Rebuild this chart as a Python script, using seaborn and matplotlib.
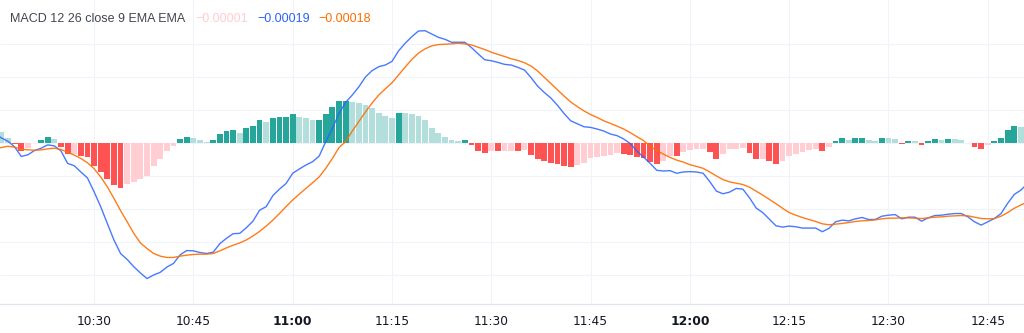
import numpy as np
import pandas as pd
import matplotlib
matplotlib.use("Agg")
import matplotlib.pyplot as plt
import seaborn as sns

# MACD(12, 26, close, 9) on one-minute bars starting at 10:15, values in units of 1e-5
start_minute = 15  # minutes after 10:00 of the first bar
UNIT = 1e-5

hist = [
    4.2, 3.2, 1.5, -0.3, -2.4, -1.5, -0.2, 0.8, 1.7, 1.0,
    -1.3, -3.5, -3.4, -4.2, -4.5, -7.1, -8.9, -10.9, -12.7, -13.8,
    -12.5, -12.0, -10.9, -10.2, -7.1, -5.1, -2.5, -1.0, 1.0, 1.7,
    1.4, 0.8, 0.2, 0.8, 2.7, 3.5, 3.8, 2.9, 4.3, 5.1,
    6.7, 6.1, 7.6, 7.8, 7.9, 8.7, 7.9, 7.4, 6.8, 6.9,
    8.6, 10.7, 12.5, 12.7, 12.3, 12.0, 11.4, 10.6, 9.0, 8.0,
    7.4, 9.0, 8.9, 8.7, 8.2, 6.7, 4.5, 2.8, 1.7, 0.8,
    0.5, 0.7, -0.7, -2.5, -3.3, -2.5, -2.6, -2.45, -2.4, -2.6,
    -2.3, -3.8, -5.1, -5.7, -6.3, -6.6, -7.1, -7.4, -6.7, -6.1,
    -4.8, -4.5, -4.0, -3.7, -3.3, -3.6, -3.7, -4.5, -4.8, -6.0,
    -6.5, -5.5, -4.0, -4.1, -2.8, -2.2, -2.0, -1.8, -3.0, -5.1,
    -3.6, -1.9, -1.8, -1.5, -3.2, -5.1, -5.0, -5.7, -6.4, -5.5,
    -4.0, -3.6, -3.0, -2.2, -2.0, -2.5, -1.2, 0.5, 1.5, 0.8,
    1.3, 1.5, 0.8, 0.4, 1.5, 1.4, 1.0, -0.3, 0.5, 0.4,
    -0.8, 0.4, 1.0, 0.9, 1.0, 0.95, 0.9, -0.15, -1.3, -2.0,
    -0.7, 0.6, 1.5, 3.8, 5.1, 4.8, 4.6,
]

macd = [
    2.8, 1.4, 0.4, -1.3, -4.2, -3.7, -2.4, -1.7, -0.7, -1.0,
    -2.5, -6.3, -7.0, -8.9, -10.7, -14.9, -19.4, -24.5, -29.5, -33.6,
    -35.4, -37.6, -39.5, -41.2, -40.1, -39.3, -37.7, -36.6, -34.0, -32.7,
    -32.8, -33.3, -33.6, -33.2, -30.6, -29.0, -27.6, -27.5, -25.8, -23.8,
    -20.5, -19.4, -16.1, -14.1, -12.4, -9.3, -8.0, -6.8, -5.8, -4.1,
    0.3, 4.3, 8.8, 12.2, 14.4, 16.9, 19.9, 21.8, 23.0, 23.5,
    24.6, 27.8, 30.1, 32.1, 33.8, 33.9, 32.9, 31.9, 31.3, 30.4,
    30.4, 30.4, 28.8, 26.9, 25.1, 24.8, 24.3, 23.7, 23.5, 22.8,
    22.0, 19.7, 17.1, 15.2, 13.5, 11.3, 8.8, 6.6, 5.7, 4.8,
    4.6, 4.1, 3.5, 2.6, 2.1, 1.1, -0.3, -2.6, -4.4, -6.3,
    -8.4, -8.6, -8.5, -9.3, -8.9, -8.8, -8.9, -9.3, -11.8, -14.7,
    -15.5, -15.0, -13.9, -14.1, -16.7, -19.8, -21.2, -23.2, -25.2, -25.6,
    -25.3, -25.5, -25.9, -25.9, -25.9, -27.0, -26.0, -24.0, -23.5, -23.7,
    -23.1, -22.7, -23.3, -23.3, -22.3, -22.0, -21.8, -23.1, -22.6, -22.6,
    -23.8, -22.8, -22.1, -22.0, -21.7, -21.5, -21.5, -22.5, -24.0, -25.0,
    -24.0, -23.0, -21.5, -18.4, -15.7, -14.4, -12.4,
]

signal = [
    -1.8, -1.5, -1.1, -1.4, -2.0, -2.2, -2.3, -2.2, -1.9, -1.7,
    -2.1, -2.9, -3.8, -4.8, -6.1, -7.9, -10.4, -13.4, -16.9, -20.6,
    -24.0, -27.5, -30.4, -32.1, -33.6, -34.4, -34.8, -34.8, -34.4, -34.1,
    -33.9, -33.8, -33.8, -33.6, -32.8, -31.9, -31.1, -30.4, -29.5, -28.3,
    -26.9, -25.3, -23.5, -21.5, -19.4, -17.4, -15.6, -13.9, -12.2, -10.4,
    -7.8, -4.8, -1.5, 0.3, 3.5, 6.4, 9.3, 12.0, 14.4, 16.3,
    18.1, 20.5, 22.9, 25.2, 27.1, 28.4, 29.3, 29.7, 29.8, 29.9,
    30.1, 29.9, 29.6, 28.9, 28.2, 27.4, 26.7, 26.1, 25.4, 24.9,
    24.2, 23.2, 21.7, 19.8, 17.9, 16.0, 14.1, 12.3, 10.9, 9.6,
    8.5, 7.6, 6.6, 5.8, 5.0, 4.1, 3.0, 1.8, 0.6, -1.1,
    -2.4, -3.5, -4.5, -5.3, -5.9, -6.7, -7.2, -7.8, -8.9, -10.1,
    -11.2, -11.9, -12.3, -12.7, -13.5, -14.7, -15.9, -17.2, -18.5, -19.9,
    -21.2, -22.0, -22.7, -23.3, -23.9, -24.6, -24.9, -24.7, -24.5, -24.2,
    -23.9, -23.7, -23.6, -23.4, -23.1, -22.9, -22.9, -22.8, -22.8, -22.9,
    -23.0, -22.8, -22.6, -22.5, -22.3, -22.2, -22.1, -22.2, -22.6, -23.0,
    -23.1, -23.0, -22.3, -21.2, -19.9, -18.9, -18.0,
]

tick_labels = ["10:30", "10:45", "11:00", "11:15", "11:30",
               "11:45", "12:00", "12:15", "12:30", "12:45"]

legend_title = "MACD 12 26 close 9 EMA EMA"
legend_values = ["\u22120.00001", "\u22120.00019", "\u22120.00018"]

# colours
C_UP_STRONG = "#26A69A"
C_UP_WEAK = "#B2DFDB"
C_DN_WEAK = "#FFCDD2"
C_DN_STRONG = "#FF5252"
C_MACD = "#2962FF"
C_SIGNAL = "#FF6D00"
C_GRID = "#F0F3FA"
C_TEXT = "#131722"

df = pd.DataFrame({
    "minute": start_minute + np.arange(len(hist)),
    "hist": np.asarray(hist) * UNIT,
    "macd": np.asarray(macd) * UNIT,
    "signal": np.asarray(signal) * UNIT,
})
prev = df["hist"].shift(1)
growing = df["hist"] > prev
df["state"] = np.where(
    df["hist"] >= 0,
    np.where(growing, "up_strong", "up_weak"),
    np.where(growing, "dn_weak", "dn_strong"),
)
palette = {"up_strong": C_UP_STRONG, "up_weak": C_UP_WEAK,
           "dn_weak": C_DN_WEAK, "dn_strong": C_DN_STRONG}

sns.set_theme(style="white")
plt.rcParams["font.family"] = ["DejaVu Sans"]

W, H = 1024, 333
fig = plt.figure(figsize=(W / 100, H / 100), dpi=100)
plot_bottom = 304
ax = fig.add_axes([0, (H - plot_bottom) / H, 1, plot_bottom / H])

sns.barplot(data=df, x="minute", y="hist", hue="state",
            hue_order=list(palette), palette=palette, native_scale=True,
            dodge=False, width=0.88, saturation=1, errorbar=None,
            legend=False, linewidth=0, ax=ax, zorder=2)
sns.lineplot(data=df, x="minute", y="macd", color=C_MACD, linewidth=1.0,
             alpha=0.85, ax=ax, zorder=3)
sns.lineplot(data=df, x="minute", y="signal", color=C_SIGNAL, linewidth=1.0,
             alpha=0.9, ax=ax, zorder=4)

# axes range: zero line sits at 142.5 px from the top, 33 px per 1e-4
ax.set_xlim(15.79, 170.47)
ax.set_ylim(-48.9 * UNIT, 43.2 * UNIT)
ax.set_yticks(np.arange(-40, 31, 10) * UNIT)

tick_pos = [(int(t.split(":")[0]) - 10) * 60 + int(t.split(":")[1]) for t in tick_labels]
ax.set_xticks(tick_pos)
ax.set_xticklabels(tick_labels)
for lab in ax.get_xticklabels():
    if lab.get_text().endswith(":00"):
        lab.set_fontweight("bold")
ax.tick_params(axis="x", length=0, pad=8, labelsize=8.8, colors=C_TEXT)
ax.tick_params(axis="y", left=False, labelleft=False)
ax.set_xlabel("")
ax.set_ylabel("")

ax.grid(True, color=C_GRID, linewidth=0.8)
ax.set_axisbelow(True)
for side in ("top", "left", "right"):
    ax.spines[side].set_visible(False)
ax.spines["bottom"].set_color("#E0E3EB")
ax.spines["bottom"].set_linewidth(0.9)

# indicator header line
y_base = 1 - 22 / H
head_font = dict(family=["Liberation Sans", "DejaVu Sans"], fontsize=9.0, va="baseline")
fig.text(10 / W, y_base, legend_title, color="#434651", **head_font)
for x_px, txt, col in zip([195, 257, 318], legend_values,
                          [C_DN_WEAK, C_MACD, C_SIGNAL]):
    fig.text(x_px / W, y_base, txt, color=col, **head_font)

fig.savefig("out.png", dpi=100, facecolor="white")
